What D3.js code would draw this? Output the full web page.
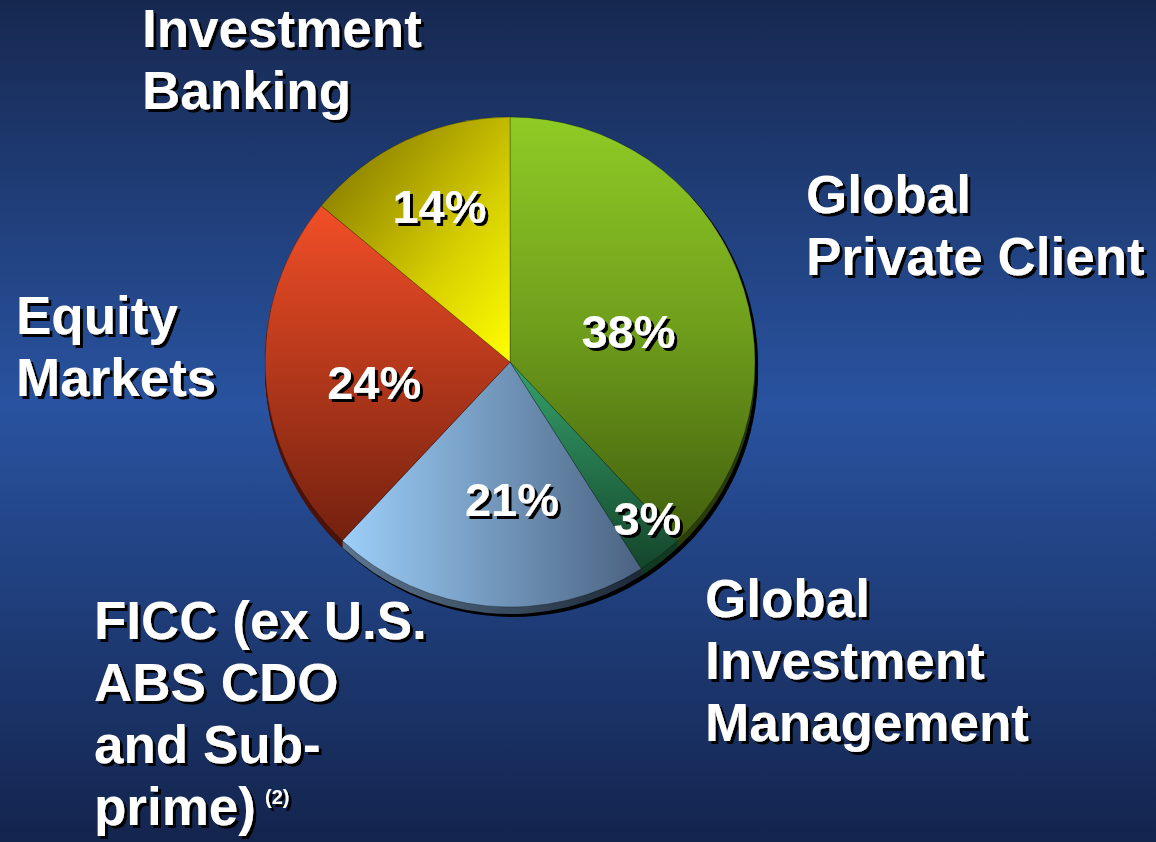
<!DOCTYPE html>
<html>
<head>
<meta charset="utf-8">
<script src="https://cdn.jsdelivr.net/npm/d3@7"></script>
<style>
  html, body { margin: 0; padding: 0; background: #1b3168; }
  svg { display: block; }
</style>
</head>
<body>
<div id="chart"></div>
<script>
// Segment revenue mix
const segments = ["Global Private Client", "Global Investment Management", "FICC (ex U.S. ABS CDO and Sub-prime)", "Equity Markets", "Investment Banking"];
const shares = [38, 3, 21, 24, 14];
const segmentLabelLines = [
  ["Global", "Private Client"],
  ["Global", "Investment", "Management"],
  ["FICC (ex U.S.", "ABS CDO", "and Sub-", "prime)"],
  ["Equity", "Markets"],
  ["Investment", "Banking"]
];
const footnoteMark = "(2)";

// ---- layout ----
const W = 1156, H = 842;
const cx = 510, cy = 362, R = 245;
const depth = 7;
const font = "'Liberation Sans', Arial, Helvetica, sans-serif";

// where each multi-line segment name starts: [x, first baseline]
const nameAnchor = [[806, 213], [705, 617], [94, 639], [16, 334], [142, 47]];
const nameLineHeight = 62;
// percent label placement relative to slice middle: [angle nudge (deg), radius fraction]
const pctPlace = [[6.9, 0.50], [-3.5, 0.85], [-6.2, 0.56], [-4.8, 0.56], [0.9, 0.70]];

const svg = d3.select("#chart").append("svg")
  .attr("width", W).attr("height", H)
  .attr("viewBox", `0 0 ${W} ${H}`);

const defs = svg.append("defs");

// hard black text shadow
const sh = defs.append("filter").attr("id", "hardShadow")
  .attr("x", "-10%").attr("y", "-20%").attr("width", "130%").attr("height", "150%");
sh.append("feDropShadow").attr("dx", 3).attr("dy", 3).attr("stdDeviation", 0.3)
  .attr("flood-color", "#000").attr("flood-opacity", 1);

// background
const bg = defs.append("linearGradient").attr("id", "bg")
  .attr("x1", 0).attr("y1", 0).attr("x2", 0).attr("y2", 1);
bg.append("stop").attr("offset", "0%").attr("stop-color", "#162850");
bg.append("stop").attr("offset", "48%").attr("stop-color", "#2953a0");
bg.append("stop").attr("offset", "100%").attr("stop-color", "#13244d");
svg.append("rect").attr("width", W).attr("height", H).attr("fill", "url(#bg)");

// slice gradients, in the pie group's own coordinates (origin at pie centre)
function grad(id, x1, y1, x2, y2, stops) {
  const g = defs.append("linearGradient").attr("id", id)
    .attr("gradientUnits", "userSpaceOnUse")
    .attr("x1", x1).attr("y1", y1).attr("x2", x2).attr("y2", y2);
  stops.forEach(s => g.append("stop").attr("offset", s[0]).attr("stop-color", s[1]));
}
grad("gGreen", 0, -R, 0, R * 0.85, [["0%", "#8fcb25"], ["45%", "#70a01c"], ["100%", "#3c560c"]]);
grad("gTeal", 0, 0, 0, R * 0.9, [["0%", "#35a26c"], ["100%", "#123f26"]]);
grad("gBlue", -R * 0.72, 0, R * 0.55, 0, [["0%", "#9fd2fd"], ["100%", "#4a6180"]]);
grad("gRed", 0, -R * 0.65, 0, R * 0.75, [["0%", "#f34f27"], ["100%", "#72200f"]]);
grad("gYellow", -R * 0.78, -R * 0.62, 0, 0, [["0%", "#938800"], ["55%", "#d8d000"], ["100%", "#ffff00"]]);

grad("rGreen", 0, 0, R, 0, [["0%", "#3a520c"], ["100%", "#25360a"]]);
grad("rTeal", 0, 0, 1, 0, [["0%", "#103a22"], ["100%", "#103a22"]]);
grad("rBlue", -R * 0.7, 0, R * 0.55, 0, [["0%", "#5c7690"], ["100%", "#1c2836"]]);
grad("rRed", 0, 0, 1, 0, [["0%", "#4a1208"], ["100%", "#4a1208"]]);
grad("rYellow", 0, 0, 1, 0, [["0%", "#5a5200"], ["100%", "#5a5200"]]);

const faceFill = ["url(#gGreen)", "url(#gTeal)", "url(#gBlue)", "url(#gRed)", "url(#gYellow)"];
const rimFill = ["url(#rGreen)", "url(#rTeal)", "url(#rBlue)", "url(#rRed)", "url(#rYellow)"];

const pie = d3.pie().sort(null).value(d => d).startAngle(0).endAngle(2 * Math.PI);
const arcs = pie(shares);
const arc = d3.arc().innerRadius(0).outerRadius(R);

const pieG = svg.append("g").attr("transform", `translate(${cx},${cy})`);

// drop shadow outline of the whole disc
const full = d3.arc().innerRadius(0).outerRadius(R).startAngle(0).endAngle(2 * Math.PI)();
pieG.append("path").attr("d", full).attr("fill", "#000").attr("transform", "translate(3,3)");
pieG.append("path").attr("d", full).attr("fill", "#000").attr("transform", `translate(3,${depth + 3})`);

// extruded side
for (let k = depth; k >= 1; k--) {
  pieG.append("g").attr("transform", `translate(0,${k})`)
    .selectAll("path").data(arcs).join("path")
    .attr("d", arc)
    .attr("fill", (d, i) => rimFill[i]);
}

// top faces
pieG.selectAll("path.face").data(arcs).join("path")
  .attr("class", "face")
  .attr("d", arc)
  .attr("fill", (d, i) => faceFill[i])
  .attr("stroke", "rgba(0,0,0,0.35)")
  .attr("stroke-width", 0.8)
  .attr("stroke-linejoin", "round");

function shadowText(parent, x, y, str, size, anchor) {
  return parent.append("text").attr("x", x).attr("y", y)
    .attr("font-family", font).attr("font-weight", "bold").attr("font-size", size)
    .attr("text-anchor", anchor).attr("fill", "#fff")
    .attr("filter", "url(#hardShadow)").text(str);
}

// percent labels inside slices
const pctSize = 47;
arcs.forEach((d, i) => {
  const mid = (d.startAngle + d.endAngle) / 2 + pctPlace[i][0] * Math.PI / 180;
  const r = R * pctPlace[i][1];
  const x = Math.sin(mid) * r;
  const y = -Math.cos(mid) * r + pctSize * 0.358;
  shadowText(pieG, x, y, d.data + "%", pctSize, "middle");
});

// segment names
const nameSize = 53;
segmentLabelLines.forEach((lines, i) => {
  const [x0, y0] = nameAnchor[i];
  lines.forEach((ln, j) => shadowText(svg, x0, y0 + j * nameLineHeight, ln, nameSize, "start"));
});

// footnote marker after the last FICC line
{
  const lines = segmentLabelLines[2];
  const tmp = svg.append("text").attr("font-family", font).attr("font-weight", "bold")
    .attr("font-size", nameSize).text(lines[lines.length - 1]);
  const w = tmp.node().getComputedTextLength();
  tmp.remove();
  const [x0, y0] = nameAnchor[2];
  shadowText(svg, x0 + w + 9, y0 + (lines.length - 1) * nameLineHeight - 21, footnoteMark, 20, "start");
}
</script>
</body>
</html>
